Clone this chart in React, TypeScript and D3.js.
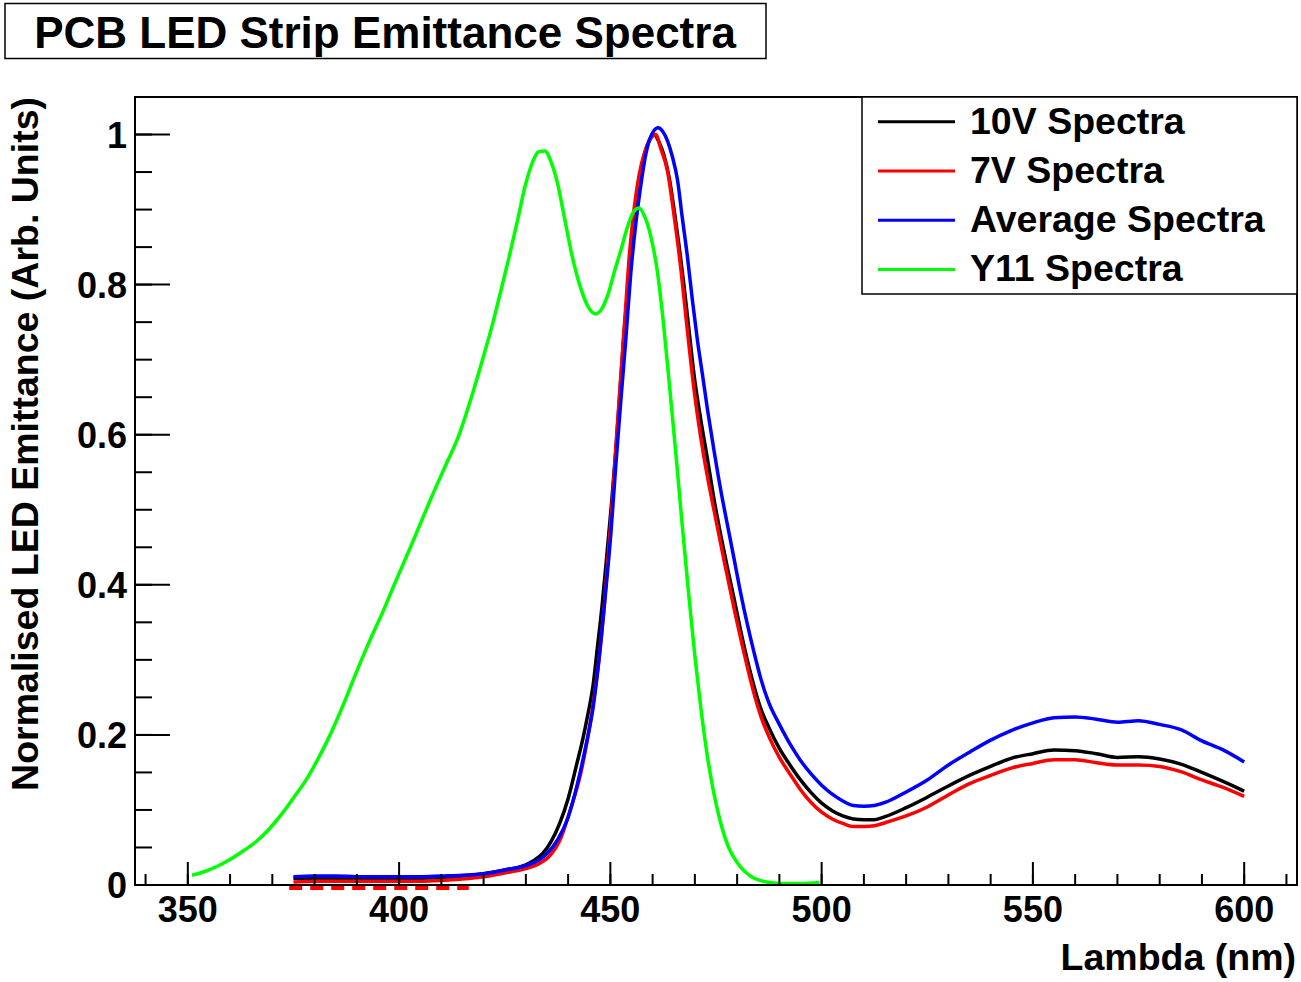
import React from "react";
import * as d3 from "d3";

// ---------- data ----------
const wl10V = [375,380,385,390,395,400,405,410,415,420,425,430,432,434,436,438,440,442,443.5,444.6,446,446.9,448,449.3,450.3,451.3,452.3,453.2,454.2,455.2,456.2,457.2,458.2,459.2,460.3,461.5,462.7,464,465.1,466.3,467.4,468.6,469.8,471.4,473,474.5,476.1,477.7,479.3,480.8,482.4,484,485.6,487.5,490,492.5,495,497.5,500,502.5,505,507.5,510,512.5,515,520,525,530,535,540,545,550,555,560,565,570,575,580,585,590,595,600];
const val10V = [0.009,0.009,0.009,0.009,0.009,0.009,0.009,0.010,0.012,0.015,0.020,0.027,0.033,0.042,0.058,0.082,0.115,0.160,0.195,0.225,0.270,0.315,0.370,0.448,0.510,0.580,0.660,0.733,0.800,0.866,0.915,0.952,0.976,0.992,1.000,0.990,0.972,0.940,0.899,0.850,0.800,0.740,0.680,0.620,0.567,0.515,0.467,0.423,0.381,0.340,0.300,0.265,0.235,0.210,0.182,0.160,0.140,0.123,0.109,0.099,0.092,0.088,0.087,0.087,0.091,0.103,0.117,0.132,0.146,0.158,0.169,0.175,0.180,0.179,0.175,0.170,0.171,0.168,0.161,0.150,0.138,0.125];

const wl7V = [375,380,385,390,395,400,405,410,415,420,425,430,433,435.5,438.3,440.5,443,444.6,446.1,447.3,448.5,449.5,450.5,451.5,452.5,453.5,454.4,455.6,456.8,458.2,459.6,460.7,462,463.5,465,466.7,468.2,469.8,472,474.5,477,479.3,481.6,484,485.6,487.5,490,492.5,495,497.5,500,502.5,505,507.5,510,512.5,515,520,525,530,535,540,545,550,555,560,565,570,575,580,585,590,595,600];
const val7V = [0.004,0.005,0.005,0.005,0.005,0.005,0.005,0.006,0.008,0.011,0.016,0.022,0.028,0.038,0.063,0.100,0.149,0.195,0.248,0.300,0.368,0.440,0.514,0.600,0.680,0.760,0.833,0.900,0.946,0.978,0.995,1.000,0.980,0.952,0.895,0.820,0.740,0.660,0.575,0.500,0.430,0.368,0.310,0.255,0.225,0.198,0.170,0.148,0.127,0.110,0.097,0.088,0.082,0.078,0.078,0.079,0.083,0.092,0.104,0.120,0.135,0.146,0.156,0.162,0.167,0.167,0.163,0.160,0.160,0.158,0.151,0.140,0.130,0.118];

const wlAvg = [375,380,385,390,395,400,405,410,415,420,425,430,433,435,437.5,440,442,444,446,447.3,448.7,450.1,451.3,452.5,453.7,454.8,456,457.2,458.2,459.2,460.3,461.3,462.4,463.5,464.7,465.9,467,468.2,469.4,470.6,471.8,473,474.5,476.1,477.7,479.3,480.8,482.4,484,485.6,487.5,490,492.5,495,497.5,500,502.5,505,507.5,510,512.5,515,520,525,530,535,540,545,550,555,560,565,570,575,580,585,590,595,600];
const valAvg = [0.011,0.012,0.012,0.011,0.011,0.011,0.011,0.012,0.013,0.015,0.020,0.026,0.033,0.042,0.060,0.090,0.130,0.180,0.240,0.300,0.380,0.467,0.560,0.647,0.730,0.813,0.880,0.932,0.968,0.992,1.005,1.009,1.004,0.992,0.970,0.939,0.890,0.839,0.780,0.726,0.680,0.633,0.580,0.527,0.480,0.434,0.390,0.348,0.310,0.275,0.243,0.214,0.188,0.166,0.148,0.133,0.121,0.112,0.106,0.105,0.106,0.110,0.124,0.140,0.160,0.177,0.193,0.206,0.216,0.223,0.224,0.221,0.217,0.219,0.214,0.207,0.192,0.180,0.164];

const wlY11 = [351,354,357,360,363,366,369,372,375,378,381,384,387,390,393,396,399,402,405,408,411,414,417,420,422,424,426,428,430,431.5,433,434.5,436,437.5,439,441,443,445,446.5,448,449.5,451,452.5,454,455.5,456.8,458,459.5,461,462.5,464,465.5,467,468.5,470,471.5,473,474.5,476,478,480,482,484,487,490,495,499.5];
const valY11 = [0.013,0.018,0.025,0.034,0.045,0.057,0.073,0.093,0.116,0.140,0.170,0.204,0.243,0.285,0.325,0.362,0.402,0.441,0.481,0.521,0.559,0.597,0.648,0.705,0.745,0.790,0.836,0.885,0.935,0.962,0.977,0.978,0.963,0.935,0.893,0.837,0.795,0.768,0.761,0.768,0.788,0.818,0.846,0.876,0.897,0.902,0.892,0.866,0.822,0.752,0.665,0.575,0.480,0.390,0.305,0.232,0.170,0.122,0.085,0.050,0.030,0.017,0.009,0.004,0.002,0.002,0.003];

// wavelength span where the 7V trace is drawn just below the axis (dashed)
const red7VBelowAxis = [374, 416.5];

const xMajorTicks = [350, 400, 450, 500, 550, 600];
const xMinorTicks = d3.range(340, 611, 10);
const yMajorTicks = [0, 0.2, 0.4, 0.6, 0.8, 1];
const yMinorTicks = d3.range(0, 21).map((i) => i * 0.05);
const yTickLabels = ["0", "0.2", "0.4", "0.6", "0.8", "1"];

const seriesNames = ["10V Spectra", "7V Spectra", "Average Spectra", "Y11 Spectra"];
const seriesColors = ["#000000", "#ff0000", "#0000ff", "#00ff00"];

const titleText = "PCB LED Strip Emittance Spectra";
const xTitle = "Lambda (nm)";
const yTitle = "Normalised LED Emittance (Arb. Units)";

// ---------- layout ----------
const W = 1301;
const H = 982;
const frame = { left: 135, right: 1297, top: 97, bottom: 885 };
const FONT = "'Liberation Sans', Arial, Helvetica, sans-serif";

export default function App() {
  const x = d3.scaleLinear().domain([337.5, 612.5]).range([frame.left, frame.right]);
  const y = d3.scaleLinear().domain([0, 1.05]).range([frame.bottom, frame.top]);

  const line = d3
    .line<[number, number]>()
    .x((d) => x(d[0]))
    .y((d) => y(d[1]))
    .curve(d3.curveMonotoneX);

  const series = [
    { wl: wl10V, v: val10V },
    { wl: wl7V, v: val7V },
    { wl: wlAvg, v: valAvg },
    { wl: wlY11, v: valY11 },
  ];

  const legend = { left: 862, top: 97, right: 1297, bottom: 294 };
  const rowH = (legend.bottom - legend.top) / 4;

  return (
    <svg
      width={W}
      height={H}
      style={{ position: "absolute", left: 0, top: 0, background: "#fff" }}
      fontFamily={FONT}
      fontWeight="bold"
    >
      <rect x={0} y={0} width={W} height={H} fill="#fff" />
      <defs>
        <clipPath id="frameClip">
          <rect x={frame.left} y={frame.top} width={frame.right - frame.left} height={frame.bottom - frame.top} />
        </clipPath>
      </defs>

      {/* title box */}
      <rect x={5} y={3.5} width={761} height={55} fill="#fff" stroke="#000" strokeWidth={1.5} />
      <text x={385} y={48} textAnchor="middle" fontSize={44}>
        {titleText}
      </text>

      {/* curves */}
      <g clipPath="url(#frameClip)">
        {series.map((s, i) => (
          <path
            key={i}
            d={line(s.wl.map((w, j) => [w, s.v[j]] as [number, number])) || ""}
            fill="none"
            stroke={seriesColors[i]}
            strokeWidth={3.5}
            strokeLinejoin="round"
          />
        ))}
      </g>
      {/* red trace segment just below the axis */}
      <line
        x1={x(red7VBelowAxis[0])}
        x2={x(red7VBelowAxis[1])}
        y1={y(0) + 3}
        y2={y(0) + 3}
        stroke="#ff0000"
        strokeWidth={4}
        strokeDasharray="13 8"
      />

      {/* frame */}
      <rect
        x={frame.left}
        y={frame.top}
        width={frame.right - frame.left}
        height={frame.bottom - frame.top}
        fill="none"
        stroke="#000"
        strokeWidth={2}
      />

      {/* x ticks */}
      {xMinorTicks.map((t) => (
        <line key={"xm" + t} x1={x(t)} x2={x(t)} y1={frame.bottom} y2={frame.bottom - 11} stroke="#000" strokeWidth={2} />
      ))}
      {xMajorTicks.map((t) => (
        <g key={"xM" + t}>
          <line x1={x(t)} x2={x(t)} y1={frame.bottom} y2={frame.bottom - 23} stroke="#000" strokeWidth={2} />
          <text x={x(t)} y={922} textAnchor="middle" fontSize={36}>
            {t}
          </text>
        </g>
      ))}

      {/* y ticks */}
      {yMinorTicks.map((t, i) => (
        <line key={"ym" + i} x1={frame.left} x2={frame.left + 17} y1={y(t)} y2={y(t)} stroke="#000" strokeWidth={2} />
      ))}
      {yMajorTicks.map((t, i) => (
        <g key={"yM" + i}>
          <line x1={frame.left} x2={frame.left + 35} y1={y(t)} y2={y(t)} stroke="#000" strokeWidth={2} />
          <text x={127} y={y(t) + 13} textAnchor="end" fontSize={36}>
            {yTickLabels[i]}
          </text>
        </g>
      ))}

      {/* axis titles */}
      <text x={1296} y={970} textAnchor="end" fontSize={37.5}>
        {xTitle}
      </text>
      <text transform="translate(38,97) rotate(-90)" textAnchor="end" fontSize={37.5}>
        {yTitle}
      </text>

      {/* legend */}
      <rect
        x={legend.left}
        y={legend.top}
        width={legend.right - legend.left}
        height={legend.bottom - legend.top}
        fill="#fff"
        stroke="#000"
        strokeWidth={1.5}
      />
      {seriesNames.map((n, i) => {
        const cy = legend.top + rowH * (i + 0.5);
        return (
          <g key={n}>
            <line x1={878} x2={955} y1={cy} y2={cy} stroke={seriesColors[i]} strokeWidth={3} />
            <text x={970} y={cy + 12} fontSize={37.5}>
              {n}
            </text>
          </g>
        );
      })}
    </svg>
  );
}
